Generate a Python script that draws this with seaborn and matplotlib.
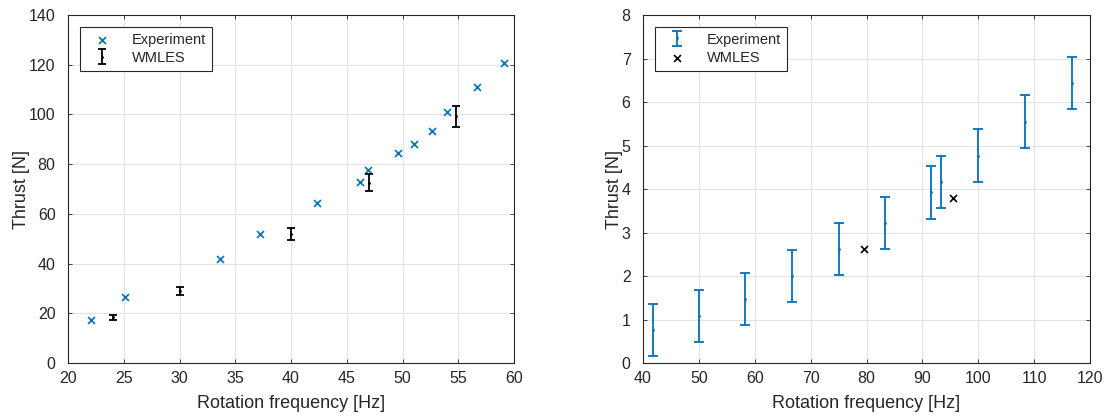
import matplotlib
matplotlib.use("Agg")
import matplotlib.pyplot as plt
import pandas as pd
import seaborn as sns

# left panel data
exp_freq_l = [22.1, 25.1, 33.6, 37.2, 42.3, 46.2, 46.9, 49.6, 51.0, 52.6, 54.0, 56.7, 59.1]
exp_thrust_l = [17.5, 26.5, 42.0, 52.0, 64.5, 73.0, 77.5, 84.3, 88.0, 93.2, 100.8, 111.0, 120.7]
les_freq_l = [24.0, 30.0, 40.0, 47.0, 54.8]
les_thrust_l = [18.5, 29.0, 52.0, 72.5, 99.2]
les_err_l = [1.0, 1.5, 2.5, 3.5, 4.2]

# right panel data
exp_freq_r = [41.7, 50.0, 58.3, 66.7, 75.0, 83.3, 91.6, 93.3, 100.0, 108.3, 116.7]
exp_thrust_r = [0.75, 1.08, 1.48, 2.0, 2.62, 3.22, 3.92, 4.17, 4.77, 5.55, 6.43]
exp_err_r = [0.6] * 11
les_freq_r = [79.6, 95.5]
les_thrust_r = [2.62, 3.8]

blue = "#0072BD"
dark = "#262626"

sns.set_style("whitegrid", {"grid.color": "#e3e3e3", "axes.edgecolor": dark,
                            "xtick.direction": "in", "ytick.direction": "in",
                            "xtick.bottom": True, "ytick.left": True,
                            "xtick.top": True, "ytick.right": True})
plt.rcParams["font.family"] = ["Liberation Sans", "DejaVu Sans"]

fig = plt.figure(figsize=(11.06, 4.17), dpi=100)
ax1 = fig.add_axes([0.0615, 0.1295, 0.4033, 0.8345])
ax2 = fig.add_axes([0.5814, 0.1295, 0.4042, 0.8345])

# left panel
df_l = pd.DataFrame({"freq": exp_freq_l, "thrust": exp_thrust_l})
sns.scatterplot(data=df_l, x="freq", y="thrust", ax=ax1, marker="x", color=blue,
                s=25, linewidth=1.2, label="Experiment", zorder=3)
ax1.errorbar(les_freq_l, les_thrust_l, yerr=les_err_l, fmt=".", color="black",
             markersize=2, capsize=3, elinewidth=1.3, capthick=1.3, label="WMLES", zorder=3)
ax1.set_xlim(20, 60)
ax1.set_ylim(0, 140)
ax1.set_xticks(range(20, 61, 5))
ax1.set_yticks(range(0, 141, 20))

# right panel
ax2.errorbar(exp_freq_r, exp_thrust_r, yerr=exp_err_r, fmt=".", color=blue,
             markersize=2, capsize=3.5, elinewidth=1.3, capthick=1.3, label="Experiment", zorder=3)
df_r = pd.DataFrame({"freq": les_freq_r, "thrust": les_thrust_r})
sns.scatterplot(data=df_r, x="freq", y="thrust", ax=ax2, marker="x", color="black",
                s=25, linewidth=1.2, label="WMLES", zorder=3)
ax2.set_xlim(40, 120)
ax2.set_ylim(0, 8)
ax2.set_xticks(range(40, 121, 10))
ax2.set_yticks(range(0, 9, 1))

for ax in (ax1, ax2):
    ax.set_xlabel("Rotation frequency [Hz]", fontsize=13, color=dark, labelpad=6)
    ax.set_ylabel("Thrust [N]", fontsize=13, color=dark, labelpad=-1)
    ax.tick_params(labelsize=11.5, colors=dark, length=3, width=0.6)
    ax.tick_params(axis="x", pad=6)
    ax.tick_params(axis="y", pad=9)
    for s in ax.spines.values():
        s.set_linewidth(0.8)
        s.set_color(dark)
    ax.grid(True, color="#e3e3e3", linewidth=0.8)
    ax.set_axisbelow(True)
    handles, labels = ax.get_legend_handles_labels()
    order = sorted(range(len(labels)), key=lambda i: labels[i] != "Experiment")
    leg = ax.legend([handles[i] for i in order], [labels[i] for i in order],
                    loc="upper left", fancybox=False, framealpha=1, edgecolor=dark,
                    fontsize=10.5, borderaxespad=0.8, handlelength=2.2, handletextpad=1.0,
                    labelspacing=0.3, borderpad=0.4)
    leg.get_frame().set_linewidth(0.8)

fig.savefig("out.png", dpi=100)
